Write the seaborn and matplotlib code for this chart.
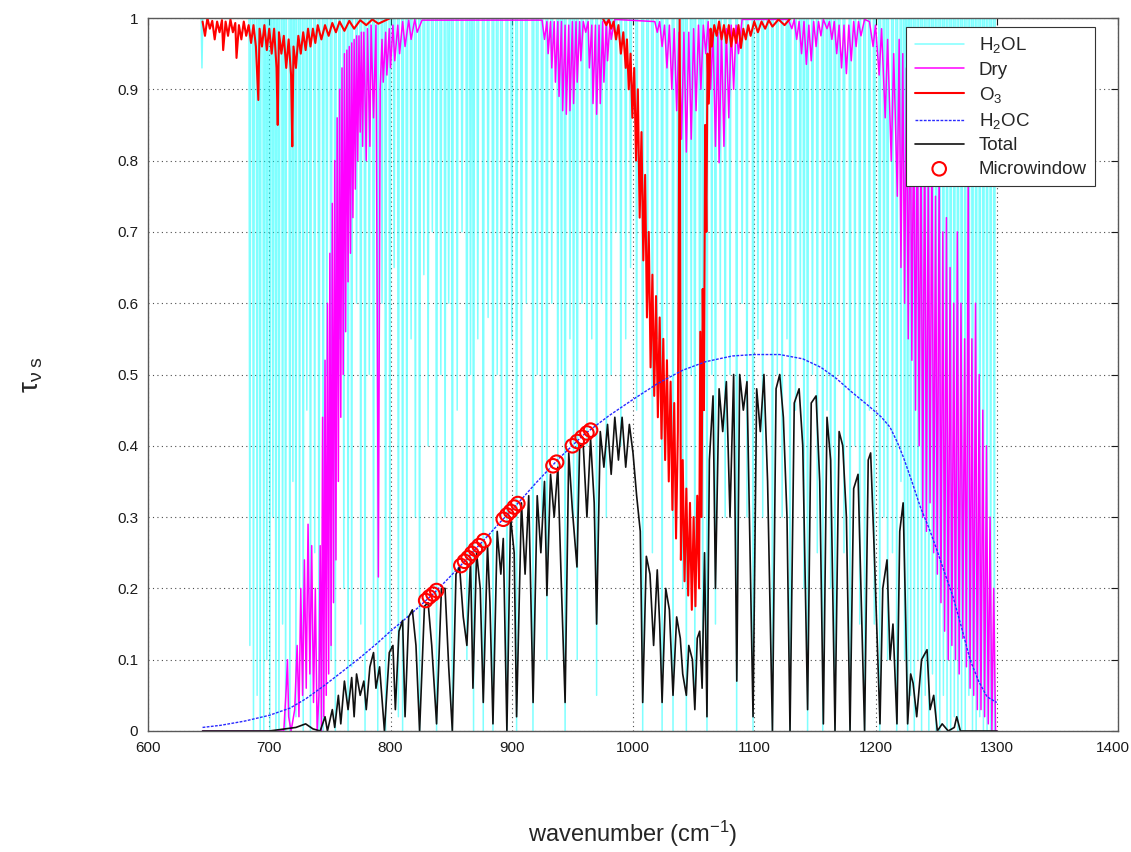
import numpy as np
import matplotlib
matplotlib.use("Agg")
import matplotlib.pyplot as plt
import matplotlib.transforms as mtransforms
import seaborn as sns

# ---------------- data ----------------
# H2O line absorption: line centres (cm-1) and minimum transmittance
h2ol_center = [644.5, 684, 687, 690, 692.5, 695.5, 698, 700.5, 703, 705.5, 708, 711, 713.5,
               717, 719.5, 722, 725, 728, 731, 734, 737.5, 741, 744.5, 747.5, 751, 754.5,
               758, 761.5, 765, 768, 772, 775.5, 779, 782.5, 786, 789.5, 793, 796, 799.5,
               803, 806.5, 810, 813.5, 817, 820.5, 824, 827.5, 831, 834.5, 838, 841.5, 845,
               848, 851, 855, 859, 863, 866, 868.5, 872, 876.5, 880.5, 884.5, 888, 891.5,
               896, 900, 904, 908, 912, 917.5, 921, 925, 929, 933, 938, 941, 944, 948, 951,
               954, 958, 962, 966, 970, 974, 978, 982, 986, 990, 994, 998, 1003, 1008, 1012,
               1016, 1020, 1024, 1028, 1033, 1037, 1041, 1044, 1048, 1051, 1055, 1057.5, 1061,
               1065, 1068, 1072, 1076, 1080, 1085.5, 1090, 1094, 1099, 1103, 1107, 1111, 1115,
               1119, 1123, 1127, 1129.5, 1134, 1138, 1141, 1144, 1148, 1152, 1156.5, 1160, 1163,
               1166.5, 1170, 1174, 1179, 1183, 1187, 1191, 1195, 1199, 1203.5, 1207, 1210, 1214,
               1217.5, 1221, 1224, 1226.5, 1229, 1232, 1235, 1238, 1241, 1244, 1247, 1250, 1253,
               1256, 1259, 1262, 1265, 1268, 1271, 1274, 1277, 1280, 1283, 1286, 1289, 1292,
               1295, 1298]
h2ol_min = [0.93, 0.12, 0.0, 0.05, 0.0, 0.0, 0.1, 0.0, 0.3, 0.0, 0.0, 0.15, 0.0,
            0.0, 0.35, 0.02, 0.2, 0.0, 0.45, 0.0, 0.25, 0.0, 0.0, 0.5, 0.1, 0.0,
            0.55, 0.2, 0.0, 0.09, 0.6, 0.15, 0.0, 0.5, 0.12, 0.0, 0.6, 0.0, 0.1,
            0.65, 0.02, 0.0, 0.16, 0.55, 0.3, 0.0, 0.64, 0.4, 0.7, 0.0, 0.5, 0.3,
            0.6, 0.0, 0.45, 0.7, 0.1, 0.5, 0.0, 0.55, 0.0, 0.58, 0.0, 0.5, 0.3,
            0.0, 0.55, 0.0, 0.4, 0.6, 0.0, 0.5, 0.3, 0.1, 0.6, 0.35, 0.5, 0.0, 0.55, 0.3,
            0.1, 0.6, 0.4, 0.55, 0.05, 0.6, 0.3, 0.5, 0.7, 0.4, 0.55, 0.65, 0.45, 0.0, 0.6,
            0.25, 0.55, 0.0, 0.5, 0.0, 0.45, 0.2, 0.0, 0.5, 0.05, 0.4, 0.1, 0.0,
            0.5, 0.15, 0.6, 0.3, 0.5, 0.0, 0.6, 0.3, 0.0, 0.55, 0.3, 0.6, 0.0,
            0.5, 0.3, 0.55, 0.0, 0.45, 0.6, 0.2, 0.0, 0.5, 0.25, 0.0, 0.45, 0.2,
            0.0, 0.5, 0.25, 0.0, 0.4, 0.15, 0.0, 0.45, 0.15, 0.0, 0.3, 0.1, 0.25,
            0.0, 0.35, 0.1, 0.0, 0.05, 0.0, 0.1, 0.0, 0.05, 0.0, 0.08, 0.0, 0.0,
            0.05, 0.0, 0.0, 0.02, 0.0, 0.0, 0.0, 0.05, 0.0, 0.0, 0.02, 0.0, 0.0,
            0.0, 0.0]

# Dry gases (CO2 etc.) transmittance
dry_wn = [645, 712, 714, 715, 716, 718, 721, 723, 724.5, 726, 727.5, 729, 730.5, 732, 733.5,
          735, 736.5, 738, 739.5, 741, 742, 743, 744, 745, 746, 747, 748, 749, 750, 751, 752,
          753, 754, 755, 756, 757, 758, 759, 760, 761, 762, 763, 764, 765, 766, 767, 768, 769,
          770, 771, 772, 773, 774, 775, 776, 777, 778, 780, 781, 783, 784, 786, 788, 790,
          791.5, 793, 794, 796, 797, 799, 800, 802, 803.5, 806, 807.5, 810, 812, 815, 817,
          820, 822, 826, 925, 927, 929, 930, 932, 933, 935, 936, 938, 939, 941, 942, 944, 945,
          947, 948, 950, 951, 953, 954, 956, 957, 959, 961, 963, 964, 966, 967, 969, 970, 972,
          973, 975, 976, 978, 979, 981, 982, 985, 1018, 1020, 1022, 1024, 1026, 1028, 1030,
          1032, 1034, 1036, 1038, 1040, 1042, 1044, 1046, 1048, 1050, 1052, 1054, 1056, 1058,
          1060, 1062, 1064, 1066, 1068, 1070, 1071, 1073, 1075, 1077, 1079, 1081, 1083, 1085,
          1087, 1090, 1128, 1131, 1133, 1135, 1137, 1139, 1141, 1143, 1145, 1147, 1149, 1151,
          1153, 1155, 1157, 1160, 1162, 1164, 1166, 1168, 1170, 1172, 1174, 1176, 1178, 1180,
          1182, 1184, 1186, 1188, 1191, 1195, 1198, 1200, 1203, 1205, 1208, 1210, 1213, 1215,
          1218, 1219.5, 1221, 1222.5, 1224, 1225.5, 1227, 1228.5, 1230, 1231.5, 1233, 1234.5,
          1236, 1237.5, 1239, 1240.5, 1242, 1243.5, 1245, 1246.5, 1248, 1249.5, 1251, 1252.5,
          1254, 1255.5, 1257, 1258.5, 1260, 1261.5, 1263, 1264.5, 1266, 1267.5, 1269, 1270.5,
          1272, 1273.5, 1275, 1276.5, 1278, 1279.5, 1281, 1282.5, 1284, 1285.5, 1287, 1288.5,
          1290, 1291.5, 1293, 1294.5, 1296, 1297.5, 1299, 1300]
dry_tau = [0.0, 0.0, 0.06, 0.1, 0.02, 0.0, 0.03, 0.12, 0.02, 0.2, 0.05, 0.24, 0.06, 0.29, 0.08,
           0.26, 0.04, 0.2, 0.0, 0.05, 0.26, 0.0, 0.44, 0.02, 0.52, 0.05, 0.6, 0.08, 0.67, 0.12, 0.74,
           0.18, 0.8, 0.24, 0.86, 0.35, 0.9, 0.44, 0.93, 0.5, 0.95, 0.56, 0.955, 0.63, 0.96, 0.67, 0.965, 0.72,
           0.97, 0.76, 0.975, 0.8, 0.975, 0.84, 0.98, 0.82, 0.98, 0.8, 0.985, 0.82, 0.99, 0.86, 0.99, 0.216,
           0.9, 0.97, 0.91, 0.98, 0.92, 0.985, 0.93, 0.99, 0.94, 0.99, 0.95, 0.995, 0.96, 0.997, 0.97,
           0.998, 0.98, 0.997, 0.997, 0.97, 0.995, 0.95, 0.995, 0.93, 0.995, 0.91, 0.995, 0.89, 0.995, 0.87, 0.99, 0.865,
           0.99, 0.87, 0.995, 0.88, 0.995, 0.91, 0.995, 0.94, 0.995, 0.98, 0.995, 0.93, 0.99, 0.88, 0.99, 0.865, 0.99,
           0.88, 0.995, 0.91, 0.995, 0.94, 0.995, 0.97, 0.998, 0.995, 0.98, 0.995, 0.96, 0.99, 0.93, 0.99,
           0.9, 0.985, 0.87, 0.98, 0.83, 0.98, 0.812, 0.98, 0.83, 0.985, 0.87, 0.99, 0.9, 0.99,
           0.95, 0.995, 0.9, 0.98, 0.82, 0.98, 0.797, 0.98, 0.82, 0.985, 0.86, 0.99, 0.9, 0.99,
           0.95, 0.998, 0.998, 0.985, 0.998, 0.97, 0.995, 0.95, 0.995, 0.935, 0.99, 0.94, 0.995, 0.96,
           0.995, 0.975, 0.998, 0.985, 0.995, 0.97, 0.995, 0.95, 0.99, 0.93, 0.99, 0.922, 0.99, 0.94,
           0.995, 0.96, 0.995, 0.975, 0.998, 0.995, 0.96, 0.99, 0.92, 0.985, 0.86, 0.97, 0.8, 0.95,
           0.75, 0.97, 0.65, 0.95, 0.6, 0.93, 0.55, 0.95, 0.52, 0.9, 0.45, 0.92,
           0.4, 0.85, 0.3, 0.88, 0.28, 0.8, 0.32, 0.85, 0.25, 0.75, 0.22, 0.8,
           0.18, 0.7, 0.14, 0.72, 0.1, 0.65, 0.12, 0.6, 0.1, 0.7, 0.08, 0.6,
           0.13, 0.55, 0.09, 0.8, 0.06, 0.55, 0.05, 0.6, 0.03, 0.5, 0.03, 0.45,
           0.02, 0.4, 0.01, 0.3, 0.0, 0.2, 0.0, 0.0]

# Ozone transmittance
o3_wn = [645, 647, 649, 651, 653, 655, 657, 659, 661, 662, 664, 666, 668, 670, 672, 673, 675,
         677, 679, 681, 683, 685, 687, 689, 691, 692, 694, 696, 698, 700, 702, 704, 706, 707,
         708, 710, 712, 714, 716, 718, 719, 720, 722, 724, 726, 728, 730, 732, 734, 736, 738,
         740, 743, 746, 749, 752, 755, 758, 762, 766, 770, 775, 780, 785, 790, 800, 975,
         978, 980, 982, 984, 986, 988, 990, 992, 994,
         995, 996.5, 998, 999.5, 1001, 1002.5, 1004, 1005.5, 1007, 1008.5, 1010, 1011.5, 1013,
         1014.5, 1016, 1017.5, 1019, 1020.5, 1022, 1023.5, 1025, 1026.5, 1028, 1029.5, 1031,
         1032.5, 1034, 1035.5, 1037, 1038.5, 1039.5, 1041, 1042.5, 1044, 1045.5, 1047, 1048.5,
         1050, 1051.5, 1053, 1054.5, 1055.5, 1056.5, 1057.5, 1058.5, 1059.5, 1060.5, 1061.5,
         1062.5, 1064, 1065,
         1067, 1069, 1071, 1073, 1075, 1077, 1079, 1081, 1083, 1085, 1087, 1089, 1091, 1093,
         1095, 1097, 1100, 1103, 1106, 1109, 1112, 1115, 1120, 1125, 1130, 1200]
o3_tau = [0.995, 0.975, 1.0, 0.985, 0.996, 0.97, 0.995, 0.98, 0.997, 0.955, 0.995, 0.975, 0.998,
          0.98, 0.993, 0.944, 0.99, 0.97, 0.995, 0.975, 0.99, 0.965, 0.99, 0.96, 0.885, 0.985,
          0.96, 0.99, 0.955, 0.985, 0.95, 0.985, 0.93, 0.85, 0.98, 0.95, 0.975, 0.93, 0.97, 0.92,
          0.82, 0.96, 0.93, 0.975, 0.95, 0.98, 0.955, 0.985, 0.96, 0.985, 0.965, 0.99, 0.97,
          0.99, 0.975, 0.993, 0.98, 0.995, 0.982, 0.996, 0.985, 0.997, 0.99, 0.998, 0.992, 1.0,
          1.0,
          0.99, 0.998, 0.985, 0.995, 0.97, 0.99, 0.95, 0.98, 0.93,
          0.97, 0.9, 0.95, 0.86, 0.93, 0.8, 0.9, 0.72, 0.84, 0.66, 0.78, 0.58, 0.7,
          0.51, 0.64, 0.47, 0.61, 0.44, 0.58, 0.41, 0.55, 0.38, 0.52, 0.35, 0.49,
          0.31, 0.46, 0.27, 0.42, 1.0, 0.24, 0.38, 0.21, 0.34, 0.19, 0.32, 0.17,
          0.3, 0.175, 0.33, 0.2, 0.56, 0.3, 0.62, 0.45, 0.85, 0.7, 0.95,
          0.88, 0.985, 0.96,
          0.99, 0.975, 0.995, 0.97, 0.99, 0.965, 0.99, 0.96, 0.985, 0.965, 0.99, 0.958, 0.985,
          0.97, 0.99, 0.975, 0.995, 0.98, 0.995, 0.985, 0.997, 0.988, 0.998, 0.99, 1.0, 1.0]

# H2O continuum (blue)
h2oc_wn = [645, 660, 680, 700, 717, 730, 744, 760, 775, 789, 800, 812, 824, 835, 846.6, 860,
           870, 882, 890, 900, 907, 920, 940, 959, 980, 1000, 1020, 1041, 1060, 1082, 1100,
           1121, 1140, 1155, 1168, 1180, 1195, 1205, 1212, 1218, 1223, 1230, 1237, 1244,
           1250.6, 1257, 1264, 1271, 1278, 1285, 1292, 1300]
h2oc_tau = [0.005, 0.008, 0.014, 0.022, 0.032, 0.045, 0.062, 0.083, 0.103, 0.123, 0.14, 0.157,
            0.175, 0.192, 0.212, 0.236, 0.255, 0.277, 0.292, 0.31, 0.323, 0.348, 0.384, 0.415,
            0.442, 0.465, 0.487, 0.506, 0.518, 0.526, 0.528, 0.528, 0.522, 0.51, 0.494, 0.476,
            0.455, 0.44, 0.426, 0.405, 0.384, 0.35, 0.314, 0.285, 0.254, 0.222, 0.188, 0.145,
            0.1, 0.07, 0.048, 0.04]

# Total transmittance (black)
total_wn = [645, 700, 722, 730, 736, 742, 746, 748, 752, 754, 757, 759, 762, 765, 768, 770, 772,
            775, 778, 780, 783, 786, 788, 791, 795, 799, 802, 804, 807, 810, 812, 815, 818, 821,
            824, 828, 831, 834, 838, 842, 845, 848, 851, 854, 857, 860, 863, 866, 868, 871, 874,
            876.5, 880, 882, 884.5, 888, 891, 893, 896, 899, 902, 904, 908, 911, 914, 917.6, 921,
            924, 927, 929, 932, 935, 938, 941, 944, 947, 950, 953.8, 956, 959, 962, 965, 968, 970,
            973, 976, 979, 982, 985, 988, 991, 994, 997, 1000, 1003, 1006, 1008, 1011, 1014, 1017,
            1020, 1022, 1024, 1027, 1030, 1033, 1036, 1039, 1041, 1044, 1046, 1049, 1051, 1053,
            1055, 1057, 1059, 1061, 1063, 1066, 1068, 1071, 1074, 1077, 1080, 1083, 1085.6, 1088,
            1091, 1094, 1096, 1099, 1102, 1105, 1108, 1111, 1115, 1118, 1121, 1124, 1127, 1129.5,
            1133, 1137, 1140, 1144, 1147, 1151, 1154, 1157, 1160, 1163, 1166.6, 1170, 1173, 1176,
            1179, 1182, 1185.6, 1188, 1191, 1194, 1196, 1199, 1203.7, 1206, 1209.5, 1212, 1214.4,
            1217.7, 1220, 1222.8, 1225, 1226.5, 1229, 1231, 1234, 1238, 1242.5, 1245, 1248, 1251,
            1255, 1260, 1265, 1267, 1270, 1280, 1300]
total_tau = [0.0, 0.0, 0.005, 0.01, 0.003, 0.0, 0.02, 0.0, 0.03, 0.005, 0.05, 0.01, 0.07, 0.03,
             0.075, 0.02, 0.08, 0.05, 0.07, 0.03, 0.09, 0.11, 0.06, 0.09, 0.0, 0.11, 0.12, 0.03,
             0.14, 0.155, 0.02, 0.16, 0.17, 0.12, 0.0, 0.175, 0.18, 0.12, 0.01, 0.2, 0.2, 0.09,
             0.0, 0.22, 0.23, 0.16, 0.12, 0.24, 0.06, 0.25, 0.2, 0.04, 0.26, 0.18, 0.01, 0.28,
             0.22, 0.27, 0.0, 0.3, 0.25, 0.02, 0.32, 0.22, 0.33, 0.04, 0.33, 0.25, 0.35, 0.19,
             0.36, 0.3, 0.37, 0.2, 0.04, 0.39, 0.31, 0.23, 0.4, 0.4, 0.3, 0.41, 0.32, 0.15, 0.42,
             0.37, 0.43, 0.36, 0.44, 0.38, 0.44, 0.37, 0.43, 0.39, 0.33, 0.28, 0.04, 0.245, 0.22,
             0.12, 0.226, 0.15, 0.04, 0.2, 0.17, 0.05, 0.16, 0.13, 0.08, 0.05, 0.12, 0.1, 0.03,
             0.13, 0.14, 0.06, 0.25, 0.02, 0.38, 0.47, 0.2, 0.48, 0.42, 0.49, 0.3, 0.5, 0.07, 0.5,
             0.45, 0.49, 0.3, 0.02, 0.48, 0.42, 0.5, 0.35, 0.0, 0.48, 0.5, 0.44, 0.3, 0.0, 0.46,
             0.48, 0.4, 0.03, 0.46, 0.47, 0.35, 0.01, 0.44, 0.38, 0.0, 0.42, 0.4, 0.3, 0.0, 0.34,
             0.36, 0.2, 0.0, 0.38, 0.39, 0.25, 0.01, 0.2, 0.24, 0.1, 0.15, 0.01, 0.28, 0.32, 0.15,
             0.01, 0.08, 0.067, 0.02, 0.1, 0.114, 0.03, 0.05, 0.0, 0.01, 0.0, 0.005, 0.02, 0.0,
             0.0, 0.0]

# Microwindows (red circles)
mw_wn = [829, 832, 835, 838, 858, 861, 864, 867, 870, 873, 877, 893, 896, 899, 902, 905,
         934, 937, 950, 954, 958, 962, 965]
mw_tau = [0.183, 0.188, 0.192, 0.197, 0.232, 0.238, 0.243, 0.249, 0.255, 0.26, 0.267, 0.297,
          0.303, 0.308, 0.314, 0.319, 0.372, 0.377, 0.4, 0.406, 0.412, 0.418, 0.422]

x_ticks = [600, 700, 800, 900, 1000, 1100, 1200, 1300, 1400]
y_ticks = [0, 0.1, 0.2, 0.3, 0.4, 0.5, 0.6, 0.7, 0.8, 0.9, 1]
y_tick_labels = ["0", "0.1", "0.2", "0.3", "0.4", "0.5", "0.6", "0.7", "0.8", "0.9", "1"]

# ---------------- figure ----------------
sns.set_style("white")
plt.rcParams["font.family"] = ["Liberation Sans", "DejaVu Sans"]
plt.rcParams["mathtext.fontset"] = "custom"
plt.rcParams["mathtext.rm"] = "Liberation Sans"
plt.rcParams["mathtext.it"] = "Liberation Sans:italic"

fig = plt.figure(figsize=(11.31, 8.52), dpi=100)
ax = fig.add_axes([148 / 1131, 1 - 731 / 852, 970 / 1131, 713 / 852])

# build the H2OL line shapes from the line list
hw = 0.7
cx, cy = [], []
for c, d in zip(h2ol_center, h2ol_min):
    cx += [c - hw, c, c + hw]
    cy += [1.0, d, 1.0]

common = dict(ax=ax, estimator=None, sort=False)
sns.lineplot(x=cx, y=cy, color="#00ffff", lw=1.1, alpha=0.5, label="H$_2$OL", **common)
sns.lineplot(x=dry_wn, y=dry_tau, color="#ff00ff", lw=1.1, label="Dry", **common)
sns.lineplot(x=o3_wn, y=o3_tau, color="#ff0000", lw=1.5, label="O$_3$", **common)
sns.lineplot(x=h2oc_wn, y=h2oc_tau, color="#2a2aff", lw=1.0, linestyle=(0, (2, 1)),
             label="H$_2$OC", **common)
sns.lineplot(x=total_wn, y=total_tau, color="#111111", lw=1.2, label="Total", **common)
sns.scatterplot(x=mw_wn, y=mw_tau, ax=ax, marker="o", s=95, facecolor="none",
                edgecolor="#ff0000", linewidth=1.5, label="Microwindow", zorder=5)

ax.set_xlim(600, 1400)
ax.set_ylim(0, 1)
ax.set_xticks(x_ticks)
ax.set_yticks(y_ticks)
ax.set_yticklabels(y_tick_labels)
ax.grid(True, linestyle=(0, (1, 3)), color="0.3", linewidth=0.8)
ax.tick_params(direction="in", top=True, right=True, length=5, width=0.8,
               labelsize=11, colors="0.1", pad=7)
for s in ax.spines.values():
    s.set_color("0.35")
    s.set_linewidth(1.0)

# keep the last x tick label inside the canvas
last = ax.xaxis.get_major_ticks()[-1].label1
last.set_transform(last.get_transform() +
                   mtransforms.ScaledTranslation(-5 / 100, 0, fig.dpi_scale_trans))

ax.set_xlabel("wavenumber (cm$^{-1}$)", fontsize=17, labelpad=46)
ax.set_ylabel(r"$\mathrm{\tau_{\nu\;s}}$", fontsize=20, labelpad=52)

leg = ax.legend(loc="upper right", bbox_to_anchor=(0.9763, 0.9874), borderaxespad=0,
                frameon=True, fancybox=False, edgecolor="0.2", framealpha=1, fontsize=13.5,
                handlelength=2.6, labelspacing=0.33, borderpad=0.45, handletextpad=0.8)
leg.get_frame().set_linewidth(0.8)

fig.savefig("out.png", dpi=100)
